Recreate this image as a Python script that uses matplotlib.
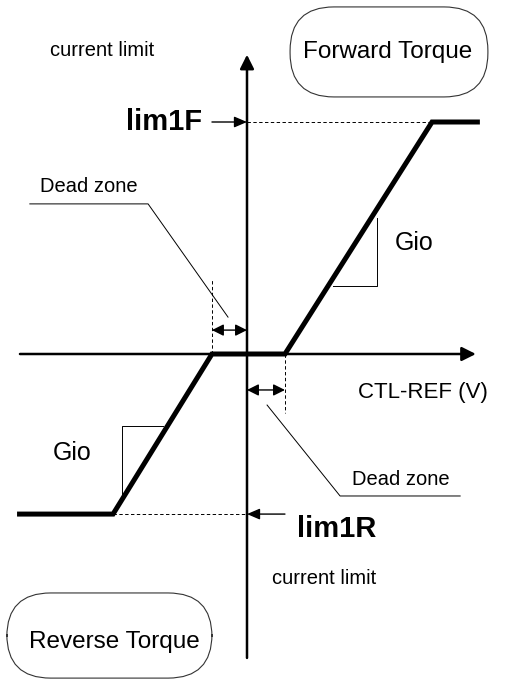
import matplotlib
matplotlib.use('Agg')
import matplotlib.pyplot as plt
from matplotlib.patches import FancyBboxPatch

plt.rcParams['font.family'] = ['Liberation Sans', 'DejaVu Sans']

# transfer curve: CTL-REF (V) vs current limit (schematic units)
curve_x = [-6.3, -3.67, -0.96, 1.04, 5.07, 6.38]
curve_y = [-0.69, -0.69, 0.0, 0.0, 1.0, 1.0]

dead_neg = -0.96
dead_pos = 1.04
lim1F = 1.0
lim1R = -0.69
sat_neg = -3.67
sat_pos = 5.07

# axis extents
axis_x = [-6.22, 6.27]
axis_y = [-1.31, 1.29]

# leader lines for the "Dead zone" notes
lead_top_x = [-5.95, -2.71, -0.52]
lead_top_y = [0.647, 0.647, 0.159]
lead_bot_x = [0.55, 2.55, 5.84]
lead_bot_y = [-0.22, -0.612, -0.612]

# slope (Gio) triangles
gio_r_x = [2.36, 3.56, 3.56]
gio_r_y = [0.293, 0.293, 0.586]
gio_l_x = [-2.30, -3.42, -3.42]
gio_l_y = [-0.31, -0.31, -0.629]

# pixel scale: 36.5 px per x unit, 232 px per y unit, origin at (247, 354)
W, H = 506, 679
fig = plt.figure(figsize=(W / 100, H / 100), dpi=100)
ax = fig.add_axes([0, 0, 1, 1])
ax.set_xlim(-247 / 36.5, (W - 247) / 36.5)
ax.set_ylim(-(H - 354) / 232, 354 / 232)
ax.axis('off')
asp = 36.5 / 232


def arrow(x0, y0, x1, y1, style='-|>', lw=1.0, hl=0.6, hw=0.3, ms=14):
    ax.annotate('', xy=(x1, y1), xytext=(x0, y0),
                arrowprops=dict(arrowstyle='%s,head_length=%s,head_width=%s' % (style, hl, hw),
                                lw=lw, color='black', shrinkA=0, shrinkB=0,
                                mutation_scale=ms))


# main axes
arrow(axis_x[0], 0, axis_x[1], 0, lw=1.8)
arrow(0, axis_y[0], 0, axis_y[1], lw=1.8)

# curve
ax.plot(curve_x, curve_y, color='black', lw=3.6, solid_joinstyle='miter',
        solid_capstyle='butt')

dash = (0, (3.5, 2.5))
ax.plot([0, sat_pos], [lim1F, lim1F], color='black', lw=0.7, ls=dash)
ax.plot([sat_neg, 0], [lim1R, lim1R], color='black', lw=0.7, ls=dash)
ax.plot([dead_neg, dead_neg], [0, 0.32], color='black', lw=0.7, ls=dash)
ax.plot([dead_pos, dead_pos], [0, -0.254], color='black', lw=0.7, ls=dash)

# limit arrows
arrow(-0.96, lim1F, 0, lim1F, lw=1.0, hl=0.7, hw=0.3, ms=11)
arrow(dead_pos, lim1R, 0, lim1R, lw=1.0, hl=0.7, hw=0.3, ms=11)

# dead zone arrows
arrow(dead_neg, 0.103, 0, 0.103, style='<|-|>', lw=1.0, hl=0.7, hw=0.35, ms=10)
arrow(0, -0.155, dead_pos, -0.155, style='<|-|>', lw=1.0, hl=0.7, hw=0.35, ms=10)

# leaders and slope triangles
for xs, ys in [(lead_top_x, lead_top_y), (lead_bot_x, lead_bot_y),
               (gio_r_x, gio_r_y), (gio_l_x, gio_l_y)]:
    ax.plot(xs, ys, color='black', lw=0.7)

# rounded boxes
for (x0, x1, y0, y1) in [(1.18, 6.60, 1.108, 1.496), (-6.58, -0.96, -1.397, -1.03)]:
    ax.add_patch(FancyBboxPatch((x0, y0), x1 - x0, y1 - y0,
                                boxstyle='round,pad=0,rounding_size=1.2',
                                mutation_aspect=asp, fc='none', ec='#333333', lw=0.8))

ax.text(3.86, 1.30, 'Forward Torque', fontsize=17.5, ha='center', va='center')
ax.text(-3.64, -1.241, 'Reverse Torque', fontsize=17.5, ha='center', va='center')

ax.text(-5.40, 1.31, 'current limit', fontsize=14.5, ha='left', va='center')
ax.text(0.68, -0.966, 'current limit', fontsize=14.5, ha='left', va='center')
ax.text(-1.23, lim1F, 'lim1F', fontsize=21, fontweight='bold', ha='right', va='center')
ax.text(1.37, -0.754, 'lim1R', fontsize=21, fontweight='bold', ha='left', va='center')
ax.text(-5.67, 0.72, 'Dead zone', fontsize=14.5, ha='left', va='center')
ax.text(2.88, -0.539, 'Dead zone', fontsize=14.5, ha='left', va='center')
ax.text(4.05, 0.478, 'Gio', fontsize=18, ha='left', va='center')
ax.text(-5.32, -0.427, 'Gio', fontsize=18, ha='left', va='center')
ax.text(3.04, -0.168, 'CTL-REF (V)', fontsize=16, ha='left', va='center')

fig.savefig('out.png', dpi=100)
